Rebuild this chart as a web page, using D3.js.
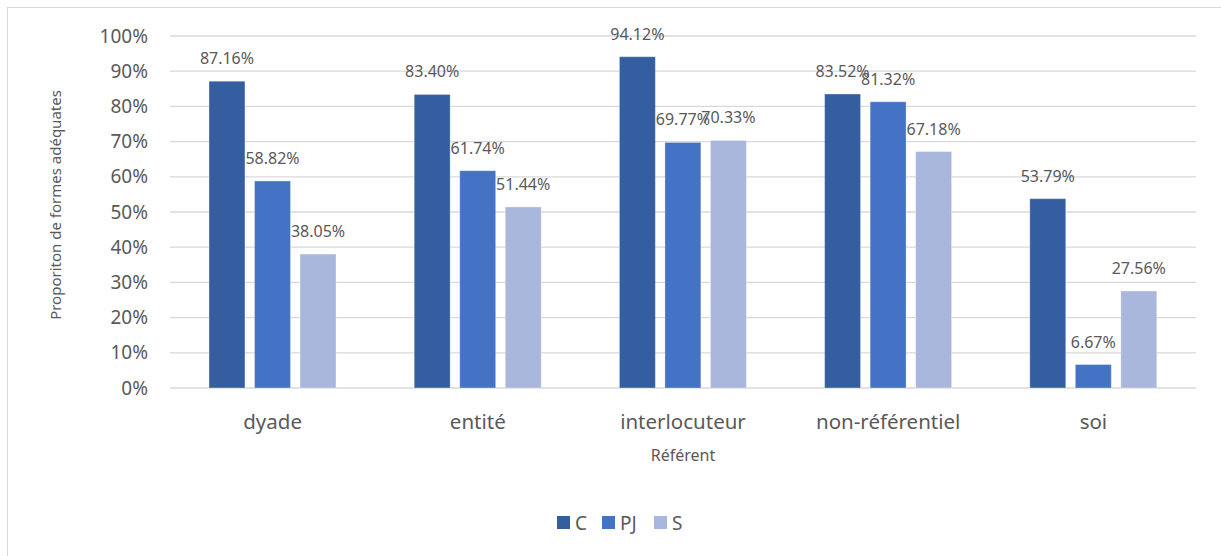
<!DOCTYPE html>
<html>
<head>
<meta charset="utf-8">
<title>Proportion de formes adéquates</title>
<script src="https://d3js.org/d3.v7.min.js"></script>
<style>
  body { margin: 0; background: #fff; }
  text { font-family: "Noto Sans", "Open Sans", sans-serif; fill: #595959; }
</style>
</head>
<body>
<div id="chart"></div>
<script>
// data
const categories = ["dyade", "entité", "interlocuteur", "non-référentiel", "soi"];
const seriesNames = ["C", "PJ", "S"];
const valuesC = [87.16, 83.40, 94.12, 83.52, 53.79];
const valuesPJ = [58.82, 61.74, 69.77, 81.32, 6.67];
const valuesS = [38.05, 51.44, 70.33, 67.18, 27.56];
const yTicks = [0, 10, 20, 30, 40, 50, 60, 70, 80, 90, 100];
const colors = ["#345ea0", "#4472c4", "#a9b7dc"];

const width = 1221, height = 556;
const plot = { left: 170, right: 1196, top: 36, bottom: 388 };

const svg = d3.select("#chart").append("svg")
  .attr("width", width).attr("height", height);

// chart frame (only top/left visible)
svg.append("rect")
  .attr("x", 7.5).attr("y", 7.5)
  .attr("width", 1240).attr("height", 600)
  .attr("fill", "none").attr("stroke", "#d9d9d9");

const x = d3.scaleBand().domain(categories)
  .range([plot.left, plot.right]).paddingInner(0).paddingOuter(0);
const xs = d3.scaleBand().domain(seriesNames)
  .range([39, 166]).paddingInner(0.21);
const y = d3.scaleLinear().domain([0, 100]).range([plot.bottom, plot.top]);

// gridlines
svg.append("g").selectAll("line").data(yTicks).join("line")
  .attr("x1", plot.left).attr("x2", plot.right)
  .attr("y1", d => y(d)).attr("y2", d => y(d))
  .attr("stroke", "#d9d9d9").attr("stroke-width", 1.3);

// y tick labels
svg.append("g").selectAll("text").data(yTicks).join("text")
  .attr("x", 148).attr("y", d => y(d))
  .attr("dy", "0.35em").attr("text-anchor", "end")
  .style("font-size", "19px")
  .text(d => d + "%");

const series = [valuesC, valuesPJ, valuesS].map((vals, i) => ({
  name: seriesNames[i], color: colors[i],
  pts: vals.map((v, j) => ({ cat: categories[j], v }))
}));

const gs = svg.append("g").selectAll("g").data(series).join("g");
gs.selectAll("rect").data(s => s.pts.map(p => ({ ...p, s }))).join("rect")
  .attr("x", d => x(d.cat) + xs(d.s.name))
  .attr("width", xs.bandwidth())
  .attr("y", d => y(d.v))
  .attr("height", d => y(0) - y(d.v))
  .attr("fill", d => d.s.color)
  .attr("stroke", "#ffffff").attr("stroke-opacity", 0.35).attr("stroke-width", 1);

gs.selectAll("text").data(s => s.pts.map(p => ({ ...p, s }))).join("text")
  .attr("x", d => x(d.cat) + xs(d.s.name) + xs.bandwidth() / 2)
  .attr("y", d => y(d.v) - 17)
  .attr("text-anchor", "middle")
  .style("font-size", "16px")
  .text(d => d.v.toFixed(2) + "%");

// category labels
svg.append("g").selectAll("text").data(categories).join("text")
  .attr("x", d => x(d) + x.bandwidth() / 2)
  .attr("y", 422).attr("dy", "0.35em")
  .attr("text-anchor", "middle")
  .style("font-size", "20.5px")
  .text(d => d);

// axis titles
svg.append("text")
  .attr("x", (plot.left + plot.right) / 2).attr("y", 455).attr("dy", "0.35em")
  .attr("text-anchor", "middle").style("font-size", "16px")
  .text("Référent");

svg.append("text")
  .attr("transform", "translate(56," + ((plot.top + plot.bottom) / 2 - 7) + ") rotate(-90)")
  .attr("dy", "0.35em")
  .attr("text-anchor", "middle").style("font-size", "15px")
  .text("Proporiton de formes adéquates");

// legend
const legendX = [557, 602, 654];
const lg = svg.append("g").selectAll("g").data(series).join("g")
  .attr("transform", (d, i) => "translate(" + legendX[i] + ",516)");
lg.append("rect").attr("width", 13).attr("height", 13).attr("fill", d => d.color);
lg.append("text").attr("x", 18).attr("y", 7).attr("dy", "0.35em")
  .style("font-size", "19px").text(d => d.name);
</script>
</body>
</html>
